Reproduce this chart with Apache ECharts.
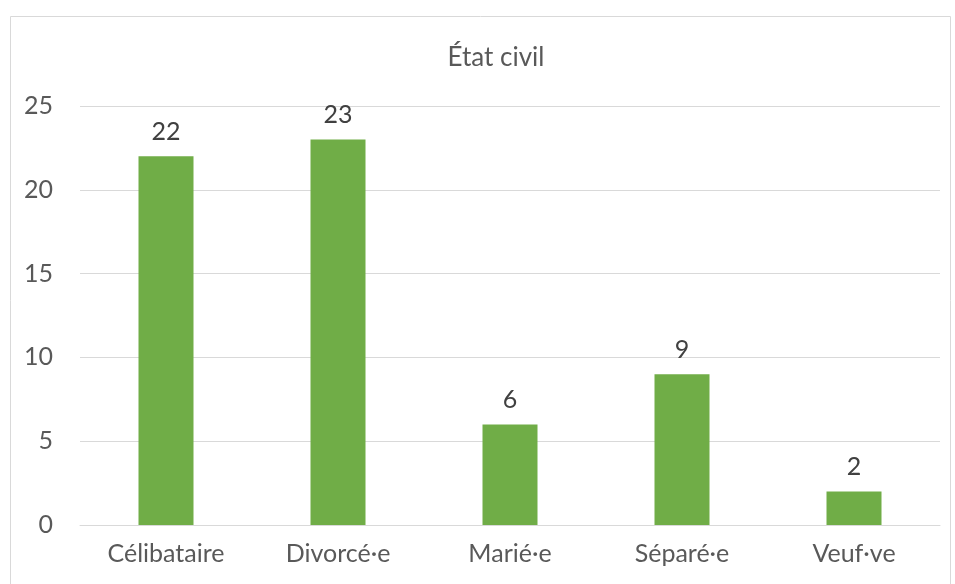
<!DOCTYPE html>
<html>
<head>
<meta charset="utf-8">
<script src="https://cdn.jsdelivr.net/npm/echarts@6/dist/echarts.min.js"></script>
<style>
  html, body { margin: 0; padding: 0; background: #fff; }
  #chart { width: 955px; height: 584px; }
</style>
</head>
<body>
<div id="chart"></div>
<script>
    // données
    const categories = ['Célibataire', 'Divorcé·e', 'Marié·e', 'Séparé·e', 'Veuf·ve']
    const values = [22, 23, 6, 9, 2]
    const yTicks = { min: 0, max: 25, interval: 5 }

    const font = 'Lato, "Open Sans", sans-serif'
    const chart = echarts.init(document.getElementById('chart'))

    chart.setOption({
        animation: false,
        textStyle: { fontFamily: font },
        graphic: [
            {
                type: 'rect',
                shape: { x: 10.5, y: 16.5, width: 940, height: 600 },
                style: { fill: 'none', stroke: '#d9d9d9', lineWidth: 1 },
                silent: true
            }
        ],
        title: {
            text: 'État civil',
            left: 491,
            textAlign: 'center',
            top: 40,
            textStyle: { fontFamily: font, fontSize: 26, fontWeight: 'normal', color: '#595959' }
        },
        grid: { left: 80, right: 15, top: 106, bottom: 59 },
        xAxis: {
            type: 'category',
            data: categories,
            axisLine: { lineStyle: { color: '#d9d9d9', width: 1 } },
            axisTick: { show: false },
            axisLabel: { color: '#595959', fontSize: 25, fontFamily: font, margin: 16 }
        },
        yAxis: {
            type: 'value',
            min: yTicks.min,
            max: yTicks.max,
            interval: yTicks.interval,
            axisLine: { show: false },
            axisTick: { show: false },
            splitLine: { lineStyle: { color: '#d9d9d9', width: 1 } },
            axisLabel: { color: '#595959', fontSize: 25, fontFamily: font, margin: 27, align: 'right' }
        },
        series: [
            {
                type: 'bar',
                data: values,
                barWidth: 55,
                itemStyle: { color: '#70ad47' },
                label: {
                    show: true,
                    position: 'top',
                    distance: 12,
                    color: '#404040',
                    fontSize: 25,
                    fontFamily: font
                }
            }
        ]
    })
</script>
</body>
</html>
